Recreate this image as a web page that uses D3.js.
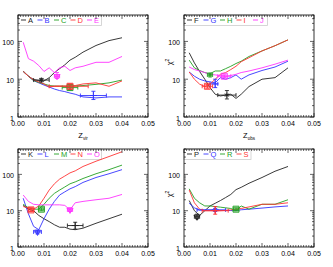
<!DOCTYPE html>
<html><head><meta charset="utf-8">
<script src="https://cdn.jsdelivr.net/npm/d3@7"></script>
<style>body{margin:0;background:#fff}svg{display:block}text{font-family:"Liberation Sans",Arial,sans-serif;fill:#000}</style>
</head><body><svg id="c" width="333" height="267"></svg>
<script>
const xs = [0.002,0.004,0.006,0.008,0.010,0.012,0.014,0.016,0.018,0.020,0.022,0.025,0.030,0.035,0.040];
const xTicks = [0,0.01,0.02,0.03,0.04,0.05];
const xTickLabels = ["0.00","0.01","0.02","0.03","0.04","0.05"];
const yTicks = [1,10,100];
const yTickLabels = ["1","10","100"];
const colors = {k:"#222222", b:"#3333ff", g:"#22a022", r:"#ff3333", m:"#ff33ff"};

// panel 1: A-E
const serA = [16.5,12,9.8,9.2,9.0,11,15,19,24,32,38,52,78,105,125];
const serB = [16,12,9.2,8,7,6.2,5.5,5,4.7,4.3,4.0,3.4,3.2,3.4,3.4];
const serC = [16,12,9.2,8.2,7.5,6.8,6.6,6.5,6.5,6.5,6.6,6.8,7.3,8,9.5];
const serD = [16,12,9.6,8.5,7.5,6.2,6.5,6.6,6.6,6.5,6.8,7.5,8,6.5,9];
const serE = [95,35,30,23,16,20,15,20,22,17,20,22,28,28,40];
// panel 2: F-J
const serF = [50,27,16,10,6,4,3.6,3.8,4,3.1,4,6.4,10,11,20];
const serG = [15.5,12,10,9,8.5,8,11,10,11,13,10,13,17,21,30];
const serH = [32,20,17,15,14,16.5,16.5,19,22,26,30,40,56,77,110];
const serI = [15.5,10,7.4,6.4,7.4,10,13.5,15,18,22,29,37,56,77,110];
const serJ = [21,18,16.5,15,13.5,13,12.5,12,12.5,13.5,15,16.5,20,25,32];
// panel 3: K-O
const serK = [14,11,10,7.4,6,5,4.1,3.5,3.5,3.1,3,3.3,4.5,6,8];
const serL = [22,8.2,3.7,3,6,11,18,27,33,40,46,60,82,104,135];
const serM = [15,12,11,11,15,22,30,37,45,55,62,77,104,135,180];
const serN = [13,12,11,13.5,22,37,55,74,90,110,125,165,230,310,420];
const serO = [27,18,15,14.5,14.5,14.5,14.5,14.5,14,10.5,16.5,18,20,22,28];
// panel 4: P-S
const serP = [19,10,7.4,10,13.5,16,19,23,28,38,44,57,82,122,165];
const serQ = [16,12,10.4,10.4,10.4,10.4,10.3,10.2,10.1,10,10.6,11,11.8,12.7,13.5];
const serR = [40,22,16.5,13.5,13.5,13,12.5,12,11.5,10,13.5,11,15,15,20];
const serS = [37,16.5,11,10,10,10,10,10.2,10.5,11,11.5,12.7,15,15,16.5];

// error markers: [x, y, xlo, xhi, ylo, yhi]
const errA = [0.009,9.5,0.006,0.012,8.5,10.5];
const errB = [0.029,3.7,0.024,0.034,2.9,4.8];
const errC = [0.020,6.0,0.017,0.023,5.2,7.0];
const errD = [0.020,6.5,0.012,0.027,5.5,7.5];
const errE = [0.015,12,0.014,0.016,10.5,15];
const errF = [0.0165,3.8,0.013,0.020,3.0,5.0];
const errG = [0.012,7.5,0.010,0.013,6,10];
const errH = [0.010,13,0.009,0.011,11.5,14.5];
const errI = [0.009,6.5,0.007,0.011,5.8,7.2];
const errJ = [0.0155,12,0.013,0.018,11,13];
const errK = [0.022,3.9,0.019,0.025,3.1,4.8];
const errL = [0.0075,2.6,0.006,0.009,2.3,2.9];
const errM = [0.009,11,0.008,0.010,10,12];
const errN = [0.005,10.5,0.004,0.006,9.5,12];
const errO = [0.020,10.5,0.019,0.021,9.5,12];
const errP = [0.005,6.8,0.004,0.006,6,8];
const errQ = [0.012,10.5,0.005,0.016,9.5,11.5];
const errR = [0.020,11,0.019,0.021,10,12];
const errS = [0.012,10,0.007,0.017,8,13];

const panels = [
  {left:18, top:15, w:130, h:102, xlabel:"vir", ylab:false,
   series:[["A","k",serA,errA,"asterisk"],["B","b",serB,errB,"plus"],["C","g",serC,errC,"square"],["D","r",serD,errD,"square"],["E","m",serE,errE,"tri"]]},
  {left:184, top:15, w:130, h:102, xlabel:"obs", ylab:true,
   series:[["F","k",serF,errF,"asterisk"],["G","b",serG,errG,"plus"],["H","g",serH,errH,"asterisk"],["I","r",serI,errI,"square"],["J","m",serJ,errJ,"square"]]},
  {left:18, top:149, w:130, h:98, xlabel:null, ylab:false,
   series:[["K","k",serK,errK,"plus"],["L","b",serL,errL,"tri"],["M","g",serM,errM,"square"],["N","r",serN,errN,"square"],["O","m",serO,errO,"tri"]]},
  {left:184, top:149, w:130, h:98, xlabel:null, ylab:true,
   series:[["P","k",serP,errP,"tri"],["Q","b",serQ,errQ,"plus"],["R","g",serR,errR,"square"],["S","r",serS,errS,"plus"]]}
];

const svg = d3.select("#c");
panels.forEach(p => {
  const x = d3.scaleLinear().domain([0,0.05]).range([p.left, p.left+p.w]);
  const y = d3.scaleLog().domain([1,500]).range([p.top+p.h, p.top]);
  const g = svg.append("g");
  const nItems = p.series.length;
  g.append("rect").attr("x",p.left).attr("y",p.top).attr("width",nItems*16.5+1).attr("height",10.5)
    .attr("fill","#fff").attr("stroke","#cccccc").attr("stroke-width",0.8);
  p.series.forEach((s,i) => {
    const lx = p.left + 3 + i*16.5;
    g.append("line").attr("x1",lx).attr("x2",lx+5).attr("y1",p.top+5).attr("y2",p.top+5)
      .attr("stroke",colors[s[1]]).attr("stroke-width",0.9);
    g.append("text").attr("x",lx+7).attr("y",p.top+8).attr("font-size",7.5).style("fill",colors[s[1]]).text(s[0]);
  });
  const line = d3.line().x((d,i)=>x(xs[i])).y(d=>y(d));
  p.series.forEach(s => {
    g.append("path").attr("d",line(s[2])).attr("fill","none").attr("stroke",colors[s[1]]).attr("stroke-width",0.9);
  });
  p.series.forEach(s => {
    const e = s[3], c = colors[s[1]];
    const eg = g.append("g").attr("stroke",c).attr("stroke-width",0.9);
    const cx = x(e[0]), cy = y(e[1]);
    eg.append("line").attr("x1",x(e[2])).attr("x2",x(e[3])).attr("y1",cy).attr("y2",cy);
    eg.append("line").attr("x1",cx).attr("x2",cx).attr("y1",y(e[4])).attr("y2",y(e[5]));
    [e[2],e[3]].forEach(v=>eg.append("line").attr("x1",x(v)).attr("x2",x(v)).attr("y1",cy-2).attr("y2",cy+2));
    [e[4],e[5]].forEach(v=>eg.append("line").attr("x1",cx-2).attr("x2",cx+2).attr("y1",y(v)).attr("y2",y(v)));
    let sym, fill="none", size=18, op=0;
    if (s[4]==="asterisk") sym=d3.symbolAsterisk;
    else if (s[4]==="plus") sym=d3.symbolPlus;
    else if (s[4]==="square") {sym=d3.symbolSquare; fill=c; size=36; op=0.25;}
    else {sym=d3.symbolTriangle; fill=c; size=16; op=0.6;}
    eg.append("path").attr("d",d3.symbol().type(sym).size(size)())
      .attr("transform",`translate(${cx},${cy})${s[4]==="tri"?" rotate(180)":""}`)
      .attr("fill",fill).attr("fill-opacity",op);
  });
  g.append("rect").attr("x",p.left).attr("y",p.top).attr("width",p.w).attr("height",p.h)
    .attr("fill","none").attr("stroke","#000").attr("stroke-width",0.8);
  const minorX = d3.range(0,0.0505,0.001);
  minorX.forEach((v,i) => {
    const len = (i%10===0)?4:2;
    const px = x(v);
    g.append("line").attr("x1",px).attr("x2",px).attr("y1",p.top+p.h).attr("y2",p.top+p.h-len).attr("stroke","#000").attr("stroke-width",0.6);
    g.append("line").attr("x1",px).attr("x2",px).attr("y1",p.top).attr("y2",p.top+len).attr("stroke","#000").attr("stroke-width",0.6);
  });
  xTicks.forEach((v,i) => {
    g.append("text").attr("x",x(v)).attr("y",p.top+p.h+9).attr("text-anchor","middle").attr("font-size",7).text(xTickLabels[i]);
  });
  const yMinor = [];
  [1,10,100].forEach(d => {for(let k=1;k<=9;k++){ if(d*k<=500) yMinor.push([d*k,k===1]); }});
  yMinor.forEach(([v,maj]) => {
    const len = maj?4:2;
    const py = y(v);
    g.append("line").attr("x1",p.left).attr("x2",p.left+len).attr("y1",py).attr("y2",py).attr("stroke","#000").attr("stroke-width",0.6);
    g.append("line").attr("x1",p.left+p.w).attr("x2",p.left+p.w-len).attr("y1",py).attr("y2",py).attr("stroke","#000").attr("stroke-width",0.6);
  });
  yTicks.forEach((v,i) => {
    g.append("text").attr("x",p.left-4).attr("y",y(v)+3.5).attr("text-anchor","end").attr("font-size",7).text(yTickLabels[i]);
  });
  if (p.ylab) {
    const t = g.append("text").attr("transform",`translate(${p.left-12},${p.top+p.h/2-4}) rotate(-90)`)
      .attr("text-anchor","middle").attr("font-size",7.5);
    t.append("tspan").text("χ");
    t.append("tspan").attr("dy",-3).attr("font-size",5).text("2");
  }
  if (p.xlabel) {
    const t = g.append("text").attr("x",p.left+p.w/2).attr("y",p.top+p.h+21).attr("text-anchor","middle").attr("font-size",7.5);
    t.append("tspan").text("Z");
    t.append("tspan").attr("dy",2).attr("font-size",4.5).text(p.xlabel);
  }
});
</script></body></html>
